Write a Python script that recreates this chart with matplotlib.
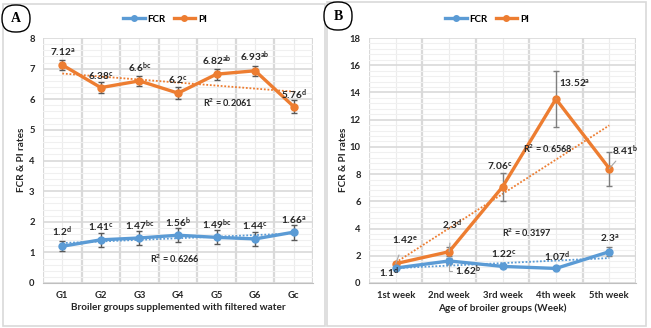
import numpy as np
import matplotlib
matplotlib.use("Agg")
import matplotlib.pyplot as plt
from matplotlib.patches import FancyBboxPatch, Rectangle
from matplotlib.ticker import MultipleLocator, FixedLocator

plt.rcParams['font.family'] = ['Lato', 'DejaVu Sans']
plt.rcParams['font.weight'] = 'bold'
plt.rcParams['mathtext.fontset'] = 'custom'
plt.rcParams['mathtext.rm'] = 'Lato:bold'
plt.rcParams['mathtext.it'] = 'Lato:bold'
plt.rcParams['mathtext.bf'] = 'Lato:bold'

# ---- Panel A data: broiler groups supplemented with filtered water ----
groups = ["G1", "G2", "G3", "G4", "G5", "G6", "Gc"]
pi_a = [7.12, 6.38, 6.6, 6.2, 6.82, 6.93, 5.76]
pi_a_err = [0.17, 0.18, 0.17, 0.19, 0.18, 0.17, 0.2]
pi_a_sup = ["a", "c", "bc", "c", "ab", "ab", "d"]
fcr_a = [1.2, 1.41, 1.47, 1.56, 1.49, 1.44, 1.66]
fcr_a_err = [0.17, 0.22, 0.22, 0.22, 0.23, 0.22, 0.24]
fcr_a_sup = ["d", "c", "bc", "b", "bc", "c", "a"]

# ---- Panel B data: age of broiler groups ----
weeks = ["1st week", "2nd week", "3rd week", "4th week", "5th week"]
pi_b = [1.42, 2.3, 7.06, 13.52, 8.41]
pi_b_err = [0.15, 0.35, 1.03, 2.05, 1.25]
pi_b_sup = ["e", "d", "c", "a", "b"]
pi_b_txt = ["1.42", "2,3", "7.06", "13.52", "8.41"]
fcr_b = [1.1, 1.62, 1.22, 1.07, 2.3]
fcr_b_err = [0.1, 0.25, 0.1, 0.05, 0.35]
fcr_b_sup = ["d", "b", "c", "d", "a"]

BLUE = "#5B9BD5"
ORANGE = "#ED7D31"
TXT = "#262626"
W, H = 651, 328

fig = plt.figure(figsize=(W / 100, H / 100), dpi=100)


def fx(px):
    return px / W


def fy(py):
    return 1 - py / H


def panel_frame(x0, y0, x1, y1):
    fig.patches.append(Rectangle((fx(x0), fy(y1)), fx(x1 - x0), (y1 - y0) / H,
                                 transform=fig.transFigure, facecolor="none",
                                 edgecolor="#d9d9d9", lw=1.2))


def panel_tag(x0, y0, x1, y1, letter):
    fig.patches.append(FancyBboxPatch((fx(x0), fy(y1)), fx(x1 - x0), (y1 - y0) / H,
                                      boxstyle="round,pad=0,rounding_size=0.02",
                                      mutation_aspect=W / H,
                                      transform=fig.transFigure, facecolor="white",
                                      edgecolor="black", lw=1.0))
    fig.text(fx((x0 + x1) / 2), fy((y0 + y1) / 2), letter, ha="center", va="center",
             family=["Liberation Serif", "DejaVu Serif"], fontsize=10, weight="bold")


def style_axes(ax, ymax, major, minor, n):
    ax.set_xlim(0.5, n + 0.5)
    ax.set_ylim(0, ymax)
    ax.yaxis.set_major_locator(MultipleLocator(major))
    ax.yaxis.set_minor_locator(MultipleLocator(minor))
    ax.xaxis.set_major_locator(FixedLocator(np.arange(1, n + 1)))
    ax.xaxis.set_minor_locator(FixedLocator(np.arange(0.5, n + 1)))
    ax.grid(which="minor", axis="x", color="#d9d9d9", lw=1.6)
    ax.grid(which="major", axis="x", color="#ececec", lw=0.8)
    ax.grid(which="major", axis="y", color="#d9d9d9", lw=1.2)
    ax.grid(which="minor", axis="y", color="#f0f0f0", lw=0.8)
    ax.set_axisbelow(True)
    for s in ax.spines.values():
        s.set_visible(False)
    ax.spines["bottom"].set_visible(True)
    ax.spines["bottom"].set_color("#bfbfbf")
    ax.tick_params(which="both", length=0, labelsize=6.8, colors=TXT, pad=6)
    for lab in ax.get_yticklabels() + ax.get_xticklabels():
        lab.set_fontweight("bold")


def trend(ax, x, y, color):
    k, b = np.polyfit(x, y, 1)
    ax.plot(x, k * np.asarray(x) + b, ls=(0, (1, 1)), color=color, lw=1.3, zorder=2)


def series(ax, x, y, err, color, ecolor):
    ax.errorbar(x, y, yerr=err, fmt="none", ecolor=ecolor, elinewidth=1.0,
                capsize=2.5, capthick=1.0, zorder=3)
    ax.plot(x, y, color=color, lw=2.4, marker="o", ms=5, zorder=4)


def label(ax, x, y, txt, sup, dx, dy, leader=None):
    kw = {}
    if leader is not None:
        kw["arrowprops"] = dict(arrowstyle="-", color="#a6a6a6", lw=0.8,
                                shrinkA=leader, shrinkB=0)
    ax.annotate(f"{txt}$^{{{sup}}}$", xy=(x, y), xytext=(dx, dy),
                textcoords="offset points", ha="center", va="center",
                fontsize=7.3, weight="bold", color=TXT, zorder=6, **kw)


# ---------------- Panel A ----------------
panel_frame(3, 4, 325, 326)
axA = fig.add_axes([fx(43), fy(283), fx(313 - 43), (283 - 38) / H])
xa = np.arange(1, len(groups) + 1)
style_axes(axA, 8, 1, 0.2, len(groups))
axA.set_xticklabels(groups)
trend(axA, xa, pi_a, ORANGE)
trend(axA, xa, fcr_a, BLUE)
series(axA, xa, pi_a, pi_a_err, ORANGE, "#595959")
series(axA, xa, fcr_a, fcr_a_err, BLUE, "#595959")
pi_a_dy = [13, 12, 13, 13, 13, 14, 12]
fcr_a_dy = [15, 13, 12, 13, 13, 13, 12]
for i in range(len(groups)):
    label(axA, xa[i], pi_a[i], f"{pi_a[i]:g}", pi_a_sup[i], 0, pi_a_dy[i] * 0.72)
    label(axA, xa[i], fcr_a[i], f"{fcr_a[i]:g}", fcr_a_sup[i], 0, fcr_a_dy[i] * 0.72)
fig.text(fx(228), fy(103), "R$^{2}$ = 0.2061", ha="center", va="center", fontsize=6.6,
         color=TXT)
fig.text(fx(175), fy(259), "R$^{2}$ = 0.6266", ha="center", va="center", fontsize=6.6,
         color=TXT)
fig.text(fx(178), fy(308), "Broiler groups supplemented with filtered water",
         ha="center", va="center", fontsize=7.2, color=TXT)
fig.text(fx(22), fy(160), "FCR & PI rates", rotation=90, ha="center", va="center",
         fontsize=7.2, color=TXT)
hA = [plt.Line2D([], [], color=BLUE, lw=2.4, marker="o", ms=4),
      plt.Line2D([], [], color=ORANGE, lw=2.4, marker="o", ms=4)]
axA.legend(hA, ["FCR", "PI"], loc="center", bbox_to_anchor=(fx(165), fy(19)),
           bbox_transform=fig.transFigure, ncol=2, frameon=False, fontsize=7,
           handlelength=2.2, handletextpad=0.3, columnspacing=0.8)
panel_tag(2, 5, 30, 32, "A")

# ---------------- Panel B ----------------
panel_frame(327, 2, 646, 326)
axB = fig.add_axes([fx(369), fy(283), fx(636 - 369), (283 - 38) / H])
xb = np.arange(1, len(weeks) + 1)
style_axes(axB, 18, 2, 0.4, len(weeks))
axB.set_xticklabels(weeks)
trend(axB, xb, pi_b, ORANGE)
trend(axB, xb, fcr_b, BLUE)
series(axB, xb, pi_b, pi_b_err, ORANGE, "#7f7f7f")
series(axB, xb, fcr_b, fcr_b_err, BLUE, "#7f7f7f")

# PI labels (offsets in px, converted to points)
pi_b_off = [(9, 24), (2.5, 26), (-3, 21), (19, 16), (15.4, 17.5)]
pi_b_lead = [5, 5, None, 8, 8]
for i in range(len(weeks)):
    dx, dy = pi_b_off[i]
    label(axB, xb[i], pi_b[i], pi_b_txt[i], pi_b_sup[i], dx * 0.72, dy * 0.72,
          pi_b_lead[i])
fcr_b_off = [(-7, -5), (18.5, -10), (1, 12.4), (1, 11.4), (0, 14)]
for i in range(len(weeks)):
    dx, dy = fcr_b_off[i]
    if i == 1:
        axB.annotate(f"{fcr_b[i]:g}$^{{{fcr_b_sup[i]}}}$", xy=(xb[i], fcr_b[i]),
                     xytext=(dx * 0.72, dy * 0.72), textcoords="offset points",
                     ha="center", va="center", fontsize=7.3, color=TXT, zorder=6,
                     arrowprops=dict(arrowstyle="-", color="#a6a6a6", lw=0.8,
                                     shrinkA=10, shrinkB=2,
                                     connectionstyle="angle,angleA=0,angleB=90,rad=0"))
    else:
        label(axB, xb[i], fcr_b[i], f"{fcr_b[i]:g}", fcr_b_sup[i], dx * 0.72, dy * 0.72)
fig.text(fx(548), fy(149), "R$^{2}$ = 0.6568", ha="center", va="center", fontsize=6.6,
         color=TXT)
fig.text(fx(527), fy(233), "R$^{2}$ = 0.3197", ha="center", va="center", fontsize=6.6,
         color=TXT)
fig.text(fx(502), fy(308), "Age of broiler groups (Week)",
         ha="center", va="center", fontsize=7.2, color=TXT)
fig.text(fx(343), fy(160), "FCR & PI rates", rotation=90, ha="center", va="center",
         fontsize=7.2, color=TXT)
hB = [plt.Line2D([], [], color=BLUE, lw=2.4, marker="o", ms=4),
      plt.Line2D([], [], color=ORANGE, lw=2.4, marker="o", ms=4)]
axB.legend(hB, ["FCR", "PI"], loc="center", bbox_to_anchor=(fx(487), fy(19)),
           bbox_transform=fig.transFigure, ncol=2, frameon=False, fontsize=7,
           handlelength=2.2, handletextpad=0.3, columnspacing=0.8)
panel_tag(324, 2, 352, 30, "B")

fig.savefig("out.png", dpi=100, facecolor="white")
